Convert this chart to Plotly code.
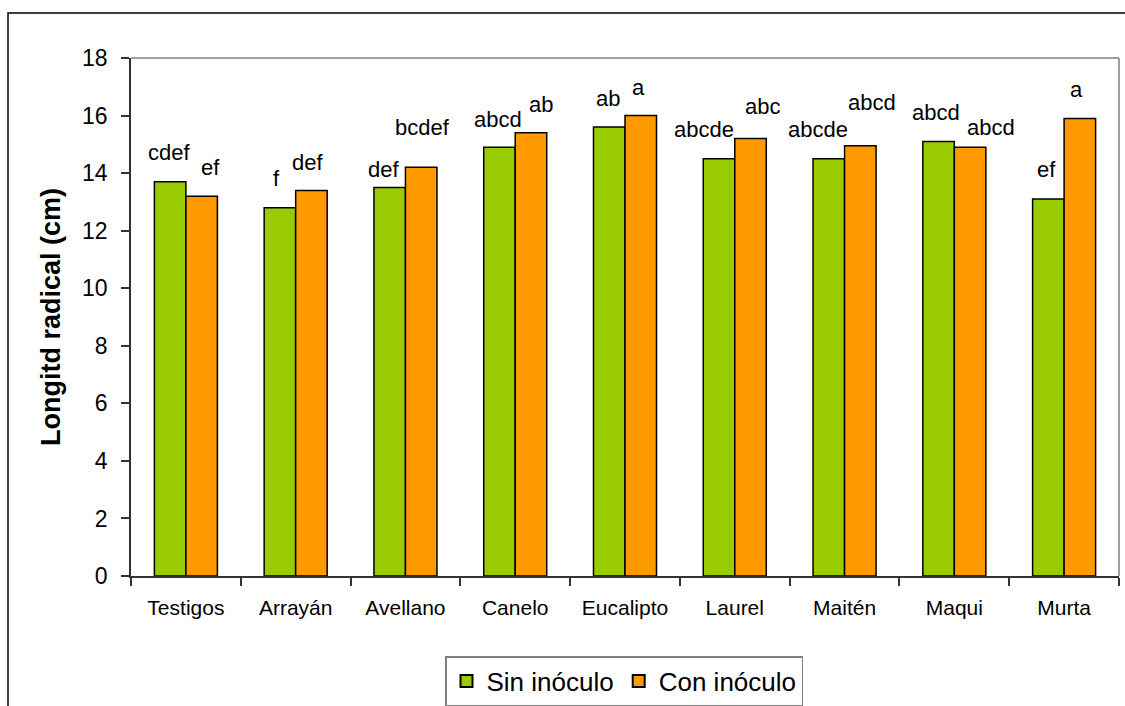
import plotly.graph_objects as go

# Root length per treatment, without and with inoculum
categories = ["Testigos", "Arrayán", "Avellano", "Canelo", "Eucalipto",
              "Laurel", "Maitén", "Maqui", "Murta"]
sin_inoculo = [13.7, 12.8, 13.5, 14.9, 15.6, 14.5, 14.5, 15.1, 13.1]
con_inoculo = [13.2, 13.4, 14.2, 15.4, 16.0, 15.2, 14.95, 14.9, 15.9]

# Significance letters (Tukey groups)
letras_sin = ["cdef", "f", "def", "abcd", "ab", "abcde", "abcde", "abcd", "ef"]
letras_con = ["ef", "def", "bcdef", "ab", "a", "abc", "abcd", "abcd", "a"]

y_ticks = [0, 2, 4, 6, 8, 10, 12, 14, 16, 18]

VERDE = "#99CC00"
NARANJA = "#FF9900"
FONT = "Liberation Sans, Arial, sans-serif"

# Placement of each letter group: (pixel shift from category centre, height in data units)
pos_sin = [(-17, 14.70), (-19, 13.83), (-22, 14.11), (-17, 15.88), (-17, 16.61),
           (-31, 15.50), (-27, 15.53), (-18, 16.12), (-18, 14.14)]
pos_con = [(25, 14.21), (12, 14.38), (17, 15.57), (26, 16.37), (13, 16.96),
           (28, 16.30), (27, 16.44), (37, 15.57), (12, 16.92)]

fig = go.Figure()
fig.add_trace(go.Bar(x=categories, y=sin_inoculo, name="Sin inóculo",
                     marker=dict(color=VERDE, line=dict(color="black", width=1.5))))
fig.add_trace(go.Bar(x=categories, y=con_inoculo, name="Con inóculo",
                     marker=dict(color=NARANJA, line=dict(color="black", width=1.5))))

annotations = []
for cat, txt, (dx, yy) in zip(categories, letras_sin, pos_sin):
    annotations.append(dict(x=cat, y=yy, text=txt, xshift=dx, showarrow=False,
                            xanchor="center", yanchor="middle",
                            font=dict(family=FONT, size=22, color="black")))
for cat, txt, (dx, yy) in zip(categories, letras_con, pos_con):
    annotations.append(dict(x=cat, y=yy, text=txt, xshift=dx, showarrow=False,
                            xanchor="center", yanchor="middle",
                            font=dict(family=FONT, size=22, color="black")))

# Outer chart frame
shapes = [
    dict(type="rect", xref="paper", yref="paper",
         x0=(8 - 131) / 988, x1=(1140 - 131) / 988,
         y0=(576 - 720) / 518, y1=(576 - 13) / 518,
         line=dict(color="black", width=1.5), fillcolor="rgba(0,0,0,0)", layer="below"),
    # top and right border of the plot area
    dict(type="line", xref="paper", yref="paper", x0=0, x1=1, y0=1, y1=1,
         line=dict(color="#808080", width=1.5)),
    dict(type="line", xref="paper", yref="paper", x0=1, x1=1, y0=0, y1=1,
         line=dict(color="#808080", width=1.5)),
]

fig.update_layout(
    width=1125, height=706,
    margin=dict(l=131, r=6, t=58, b=130),
    paper_bgcolor="white", plot_bgcolor="white",
    barmode="group", bargap=0.426, bargroupgap=0,
    font=dict(family=FONT, color="black"),
    showlegend=True,
    legend=dict(orientation="h", xref="container", yref="container",
                x=624 / 1125, xanchor="center", y=1 - 656 / 706, yanchor="top",
                font=dict(family=FONT, size=26, color="black"),
                bordercolor="#808080", borderwidth=1.5, bgcolor="white",
                itemsizing="constant", traceorder="normal"),
    annotations=annotations,
    shapes=shapes,
)

fig.update_xaxes(
    type="category", showline=True, linecolor="#333333", linewidth=1.5,
    ticks="outside", tickson="boundaries", ticklen=8, tickcolor="#333333",
    tickwidth=1.5, showgrid=False, zeroline=False,
    tickfont=dict(family=FONT, size=21, color="black"), ticklabelstandoff=12,
)
fig.update_yaxes(
    range=[0, 18], tickvals=y_ticks, showline=True, linecolor="#333333",
    linewidth=1.5, ticks="outside", ticklen=8, tickcolor="#333333", tickwidth=1.5,
    showgrid=False, zeroline=False, ticklabelstandoff=9,
    tickfont=dict(family=FONT, size=23, color="black"),
    title=dict(text="<b>Longitd radical (cm)</b>",
               font=dict(family=FONT, size=27, color="black"), standoff=14),
)

fig.write_html("out.html")
